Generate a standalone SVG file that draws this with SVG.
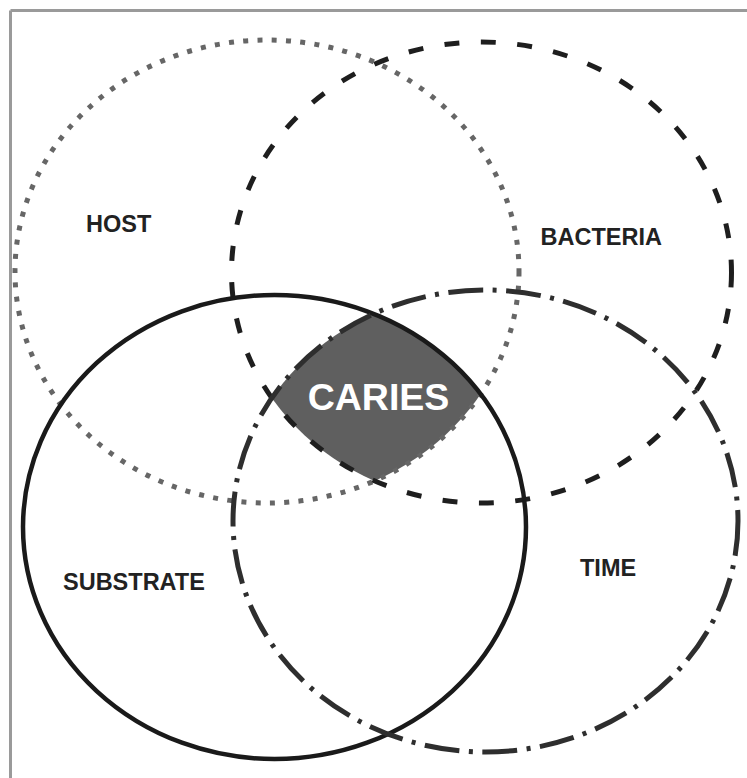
<svg xmlns="http://www.w3.org/2000/svg" width="747" height="778" viewBox="0 0 747 778">
  <style>
    .ring { fill: none; }
    .host { stroke: #666; stroke-width: 5; stroke-dasharray: 5 9.3; }
    .bact { stroke: #1e1e1e; stroke-width: 5; stroke-dasharray: 15 21.5; }
    .subs { stroke: #1a1a1a; stroke-width: 4.5; }
    .time { stroke: #2e2e2e; stroke-width: 5; stroke-dasharray: 35 9.5 4 9.5; }
    .lbl { font-family: "Liberation Sans", Arial, sans-serif; font-weight: bold; font-size: 23.5px; fill: #222; }
    .core { font-family: "Liberation Sans", Arial, sans-serif; font-weight: bold; font-size: 37.5px; fill: #fff; }
  </style>
  <defs>
    <clipPath id="cHost"><ellipse cx="267" cy="271.5" rx="252" ry="231.5"/></clipPath>
    <clipPath id="cBact"><ellipse cx="481.5" cy="272.5" rx="250" ry="230.5"/></clipPath>
    <clipPath id="cSubs"><ellipse cx="274.5" cy="527" rx="251.5" ry="232"/></clipPath>
  </defs>
  <rect x="0" y="0" width="747" height="778" fill="#fff"/>
  <g id="frame">
    <line x1="10.5" y1="10.5" x2="747" y2="10.5" stroke="#9a9a9a" stroke-width="3"/>
    <line x1="10.5" y1="10.5" x2="10.5" y2="778" stroke="#9a9a9a" stroke-width="3"/>
  </g>
  <g id="caries">
    <g clip-path="url(#cHost)">
      <g clip-path="url(#cBact)">
        <g clip-path="url(#cSubs)">
          <ellipse cx="485.5" cy="521" rx="252.5" ry="231" fill="#5f5f5f"/>
        </g>
      </g>
    </g>
    <text class="core" x="378.5" y="410" text-anchor="middle">CARIES</text>
  </g>
  <g id="host">
    <ellipse class="ring host" cx="267" cy="271.5" rx="252" ry="231.5"/>
    <text class="lbl" x="86" y="232">HOST</text>
  </g>
  <g id="bacteria">
    <ellipse class="ring bact" cx="481.5" cy="272.5" rx="250" ry="230.5"/>
    <text class="lbl" x="540.5" y="245">BACTERIA</text>
  </g>
  <g id="substrate">
    <ellipse class="ring subs" cx="274.5" cy="527" rx="251.5" ry="232"/>
    <text class="lbl" x="63" y="590">SUBSTRATE</text>
  </g>
  <g id="time">
    <ellipse class="ring time" cx="485.5" cy="521" rx="252.5" ry="231"/>
    <text class="lbl" x="580" y="576">TIME</text>
  </g>
</svg>
